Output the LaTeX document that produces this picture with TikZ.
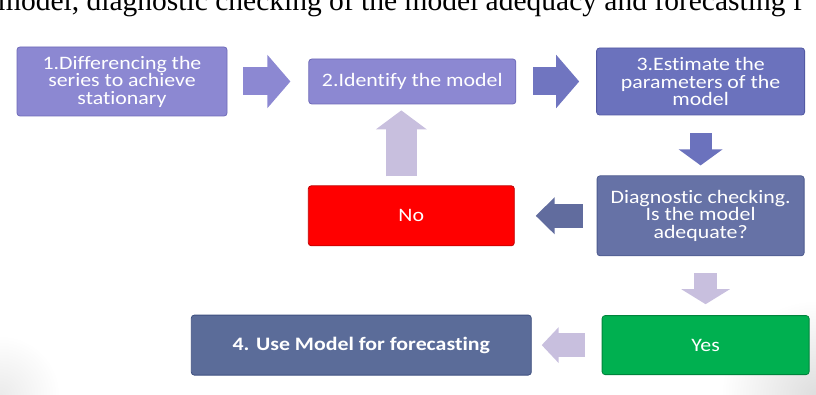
\documentclass[tikz,border=0pt]{standalone}
\usepackage{fontspec}
\newfontfamily\boxfont[FakeStretch=1.15,Ligatures={NoCommon}]{Carlito}
\newfontfamily\pagefont{Liberation Serif}
\usetikzlibrary{arrows.meta,positioning}

\definecolor{lavender}{HTML}{8C88D2}
\definecolor{lavenderedge}{HTML}{6E6AB8}
\definecolor{slate}{HTML}{6B72BD}
\definecolor{slateedge}{HTML}{5359A3}
\definecolor{steel}{HTML}{6672A6}
\definecolor{steeledge}{HTML}{4D5A8E}
\definecolor{navy}{HTML}{5B6C99}
\definecolor{navyedge}{HTML}{3F5080}
\definecolor{alarm}{HTML}{FF0000}
\definecolor{alarmedge}{HTML}{C00000}
\definecolor{okgreen}{HTML}{00B050}
\definecolor{okgreenedge}{HTML}{00843C}
\definecolor{lilac}{HTML}{C8BFDE}

\begin{document}
\begin{tikzpicture}[x=1pt,y=1pt,
	blockarrow/.style n args={4}{draw=#1,line width=#2,-{Triangle[width=#3,length=#4]}}]
	\tikzstyle{stage}=[rectangle,rounded corners=3pt,line width=0.8pt,inner sep=0pt,
		align=center,text=white,font=\boxfont\fontsize{19}{17.5}\selectfont]
	
	\useasboundingbox (0,0) rectangle (816,-395);
	
	% slide shadow in the lower corners
	\shade[inner color=black!13,outer color=white] (816,-395) circle (95pt);
	\shade[inner color=black!8,outer color=white] (0,-395) circle (60pt);
	
	\node[anchor=base west,inner sep=0pt,font=\pagefont\fontsize{29.5}{31}\selectfont] (caption) at (-2,-11)
		{model, diagnostic checking of the model adequacy and forecasting f};
	
	\node[stage,fill=lavender,draw=lavenderedge,minimum width=210pt,minimum height=69pt] (diff) at (122,-81.5)
		{1.Differencing the\\series to achieve\\stationary};
	
	\node[stage,fill=lavender,draw=lavenderedge,minimum width=207pt,minimum height=45pt] (ident) [right=81pt of diff]
		{2.Identify the model};
	
	\node[stage,fill=slate,draw=slateedge,minimum width=208pt,minimum height=67pt] (estim) [right=80pt of ident]
		{3.Estimate the\\parameters of the\\model};
	
	\node[stage,fill=steel,draw=steeledge,minimum width=207pt,minimum height=80pt] (check) [below=60pt of estim]
		{Diagnostic checking.\\Is the model\\adequate?};
	
	\node[stage,fill=alarm,draw=alarmedge,minimum width=206pt,minimum height=60pt] (no) [left=82pt of check] {No};
	
	\node[stage,fill=okgreen,draw=okgreenedge,minimum width=207pt,minimum height=59pt] (yes) [below=59pt of check,xshift=5pt] {Yes};
	
	\node[stage,fill=navy,draw=navyedge,minimum width=340pt,minimum height=60pt,
		font=\boxfont\bfseries\fontsize{19}{17.5}\selectfont] (fcast) [left=70pt of yes]
		{4. Use Model for forecasting};
	
	% block arrows
	\draw[blockarrow={lavender}{28pt}{52pt}{23pt},shorten <=16pt,shorten >=18pt] (diff) -- (ident);
	\draw[blockarrow={slate!85!lavender}{28pt}{52pt}{23pt},shorten <=17pt,shorten >=17pt] (ident) -- (estim);
	\draw[blockarrow={slate}{22pt}{43pt}{16pt},shorten <=18pt,shorten >=10pt] (estim.south) -- (estim.south |- check.north);
	\draw[blockarrow={steel!95!black}{24pt}{36pt}{19pt},shorten <=14pt,shorten >=21pt] (check) -- (no);
	\draw[blockarrow={lilac}{31pt}{50pt}{19pt},shorten <=9pt,shorten >=6pt] ([xshift=-10pt]no.north) -- ([xshift=-10pt]no.north |- ident.south);
	\draw[blockarrow={lilac}{23pt}{48pt}{15pt},shorten <=17pt,shorten >=11pt] (check.south -| yes.north) -- (yes.north);
	\draw[blockarrow={lilac}{24pt}{35pt}{17pt},shorten <=17pt,shorten >=10pt] (yes) -- (fcast);
\end{tikzpicture}
\end{document}
